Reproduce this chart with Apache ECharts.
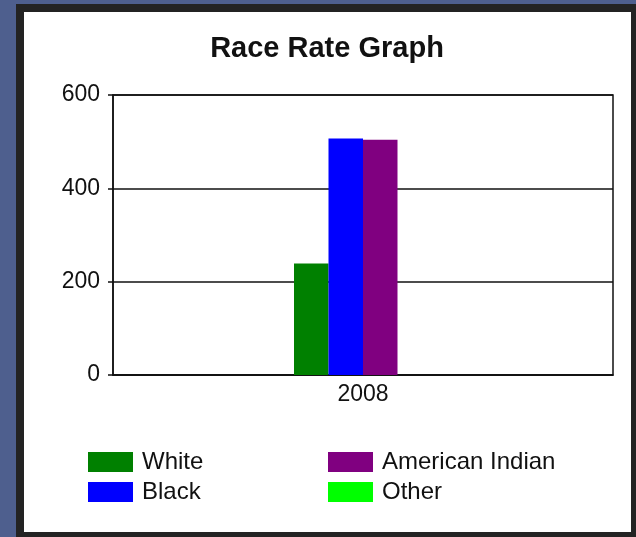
<!DOCTYPE html>
<html>
<head>
<meta charset="utf-8">
<script src="https://cdn.jsdelivr.net/npm/echarts@6/dist/echarts.min.js"></script>
<style>
    html, body { margin: 0; padding: 0; }
    body { width: 636px; height: 537px; background: #4e5f8e; position: relative; overflow: hidden; }
    #frame { position: absolute; left: 16px; top: 4px; width: 620px; height: 533px; background: #232323; }
    #panel { position: absolute; left: 24px; top: 12px; width: 607px; height: 520px; background: #fff; }
    #chart { position: absolute; left: 0; top: 0; width: 636px; height: 537px; }
</style>
</head>
<body>
<div id="frame"></div>
<div id="panel"></div>
<div id="chart"></div>
<script>
    var years = ['2008'];
    var white = [239];
    var black = [507];
    var americanIndian = [504];
    var other = [0];
    var yTicks = [0, 200, 400, 600];

    var font = 'Liberation Sans, Arial, sans-serif';
    var myChart = echarts.init(document.getElementById('chart'));

    function bar(name, data, color) {
        return {
            name: name,
            type: 'bar',
            data: data,
            barWidth: 34.5,
            barGap: '0%',
            itemStyle: { color: color }
        };
    }

    var legendText = { fontFamily: font, fontSize: 24, color: '#111', padding: [0, 0, 0, 4] };

    var option = {
        animation: false,
        title: {
            text: 'Race Rate Graph',
            left: 322,
            textAlign: 'center',
            top: 29,
            textStyle: { fontFamily: font, fontSize: 29, fontWeight: 'bold', color: '#111' }
        },
        legend: [
            {
                orient: 'vertical',
                left: 88,
                top: 450,
                padding: 0,
                itemWidth: 45,
                itemHeight: 20,
                itemGap: 6,
                icon: 'rect',
                data: ['White', 'Black'],
                textStyle: legendText
            },
            {
                orient: 'vertical',
                left: 328,
                top: 450,
                padding: 0,
                itemWidth: 45,
                itemHeight: 20,
                itemGap: 6,
                icon: 'rect',
                data: ['American Indian', 'Other'],
                textStyle: legendText
            }
        ],
        grid: {
            left: 113,
            top: 95,
            right: 23,
            bottom: 162,
            show: true,
            borderColor: '#111',
            borderWidth: 1.5
        },
        xAxis: {
            type: 'category',
            data: years,
            axisLine: { lineStyle: { color: '#111', width: 1.5 } },
            axisTick: { alignWithLabel: true, length: 5, lineStyle: { color: '#111', width: 1.5 } },
            axisLabel: { fontFamily: font, fontSize: 23, color: '#111', margin: 8 }
        },
        yAxis: {
            type: 'value',
            min: yTicks[0],
            max: yTicks[yTicks.length - 1],
            interval: yTicks[1] - yTicks[0],
            axisLine: { show: true, lineStyle: { color: '#111', width: 1.5 } },
            axisTick: { show: true, length: 5, lineStyle: { color: '#111', width: 1.5 } },
            axisLabel: { fontFamily: font, fontSize: 23, color: '#111', margin: 13 },
            splitLine: { lineStyle: { color: '#111', width: 1.5 } }
        },
        series: [
            bar('White', white, '#008000'),
            bar('Black', black, '#0000ff'),
            bar('American Indian', americanIndian, '#800080'),
            bar('Other', other, '#00ff00')
        ]
    };

    myChart.setOption(option, true);
</script>
</body>
</html>
